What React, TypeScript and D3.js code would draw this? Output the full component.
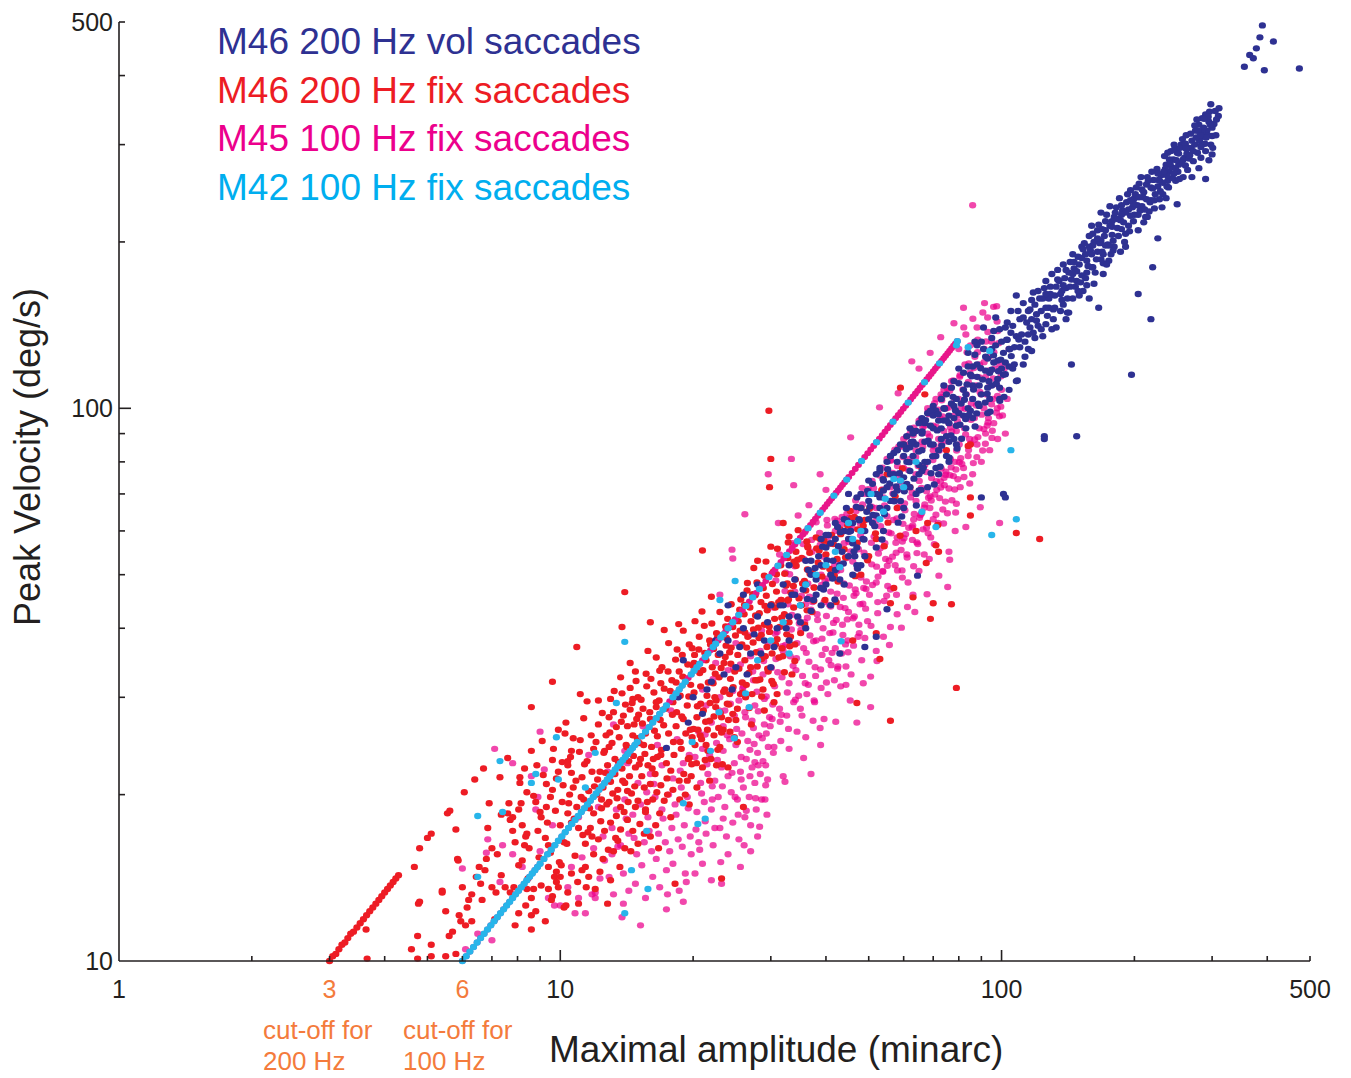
import React from "react";
import * as d3 from "d3";

// ---------- axis / label data ----------
const xTickLabels = [1, 10, 100, 500];
const xCutoffLabels = [3, 6];
const yTickLabels = [10, 100, 500];
const xMajorTicks = [10, 100];
const xMinorTicks = [2, 3, 4, 5, 6, 7, 8, 9, 20, 30, 40, 50, 60, 70, 80, 90, 200, 300, 400, 500];
const yMajorTicks = [100];
const yMinorTicks = [20, 30, 40, 50, 60, 70, 80, 90, 200, 300, 400, 500];

const legendLabels = [
  "M46 200 Hz vol saccades",
  "M46 200 Hz fix saccades",
  "M45 100 Hz fix saccades",
  "M42 100 Hz fix saccades",
];
const legendColors = ["#2e3192", "#ed1c24", "#ec008c", "#00aeef"];

// ---------- series: [amplitude (minarc), peak velocity (deg/s)] ----------
const navyVol: number[][] = [
  [390,493],[385,469],[413,461],[378,448],[365,436],[372,430],[355,415],[394,409],[473,412],
  [298,355],[290,340],[305,345],[310,338],[295,330],[285,335],[300,322],[292,318],[306,312],[280,326],[288,310],[275,318],[298,300],[284,300],[270,305],[262,312],[290,292],[278,290],[266,296],[255,300],[295,281],[290,260],[272,280],[260,284],[250,290],[264,270],[252,276],[245,282],[240,268],[258,262],[248,258],[270,262],[242,292],[236,276],[230,264],[226,252],[280,272],[300,288],[238,258],[232,244],
  [228,258],[220,250],[214,262],[210,246],[205,255],[200,240],[218,238],[222,230],[208,232],[196,248],[192,236],[188,228],[200,224],[212,222],[185,240],[180,222],[176,232],[194,214],[183,212],[204,210],[172,218],[168,226],[178,206],[190,200],[165,210],[174,198],[186,192],[160,214],[162,200],[170,190],[220,180],[226,203],[204,161],[218,145],[197,115],[250,234],[214,222],[236,240],
  [180,196],[175,185],[170,175],[165,192],[158,205],[155,190],[150,182],[148,170],[156,176],[162,168],[145,190],[142,176],[140,165],[138,182],[135,170],[150,160],[132,160],[130,175],[128,152],[125,165],[145,158],[136,150],[122,158],[120,148],[126,142],[140,145],[118,162],[133,140],[115,150],[124,135],[116,140],[112,155],[158,158],[148,89],[125,89],[144,120],[166,152],[113,132],[152,196],[168,201],[160,180],
  [110,145],[108,135],[105,150],[104,128],[102,140],[100,132],[98,122],[101,115],[96,138],[95,128],[94,116],[92,124],[90,132],[89,110],[88,120],[86,104],[85,115],[84,126],[82,108],[80,118],[80,98],[78,112],[77,102],[76,94],[75,106],[106,118],[99,104],[93,98],[86,96],[101,70],[112,120],[97,146],[91,140],[87,132],[83,92],[79,86],[104,108],[95,110],[108,160],[115,128],
  [74,100],[73,88],[72,95],[71,82],[70,92],[69,86],[68,98],[67,80],[66,90],[65,76],[64,86],[63,82],[62,92],[62,72],[61,80],[60,86],[59,74],[58,80],[57,70],[56,76],[56,82],[55,66],[72,76],[68,72],[64,70],[60,66],[66,96],[70,101],[58,84],[76,80],[74,110],[78,96],[63,91],
  [54,74],[53,66],[52,70],[51,62],[50,68],[49,60],[48,66],[47,56],[46,62],[45,70],[45,54],[44,60],[43,52],[42,58],[41,50],[40,56],[40,48],[39,52],[38,46],[37,50],[37,43],[36,48],[35,44],[52,56],[48,52],[44,48],[50,74],[47,69],[42,62],[54,60],[39,58],[36,40],[41,44],[46,50],[53,78],[49,54],
  [49,37],[52,38.6],[55,43.3],[64.5,49.8],[43,36],[90,69],[102,69],[125,88],
  [34,46],[33,42],[32,48],[31,40],[30,44],[29,38],[28,42],[27,36],[26,40],[25,34],[24,38],[22,32],[20,30],[19,35],[17.4,24.3],[21,28],[23,36],[30,34],[33,52],[28,48],[26,46],[24,44],
  [303,327],[296,344],[287,322],[281,305],[277,333],[269,296],[263,289],[257,307],[251,268],[247,296],[243,273],[239,251],[234,286],[229,247],[225,271],[221,259],[217,236],[213,254],[209,241],[206,228],[202,251],[199,218],[203,233],[311,349],[307,333],[293,312],[289,301],[283,284],[274,300],[268,314],[261,275],[254,296],[248,272],[244,261],[237,264],[232,256],[228,239],[223,244],[216,227],[211,229],[207,262],[201,244],[198,231],[246,300],[258,282],[266,283],[276,309],[285,316],[294,337],[300,311],[235,271],[240,282],[219,268],
  [196,223],[193,244],[189,217],[187,233],[184,205],[181,226],[178,213],[175,197],[173,224],[171,205],[169,192],[166,215],[164,186],[161,207],[159,193],[157,181],[154,199],[152,174],[149,188],[147,166],[146,179],[143,184],[141,158],[139,172],[137,163],[134,178],[131,151],[129,166],[127,147],[124,158],[121,141],[119,154],[117,145],[191,207],[186,219],[179,201],[172,210],[167,199],[163,176],[156,185],[151,169],[144,171],[138,154],[133,166],[128,158],[123,150],[182,231],[177,190],[170,183],[153,163],[142,149],[136,161],[194,229],[160,190],[148,177],[126,170],
  [118,137],[116,151],[114,143],[113,124],[111,136],[109,150],[107,129],[106,141],[104,119],[103,133],[101,126],[99,139],[98,113],[96,121],[95,134],[93,109],[92,117],[91,128],[90,106],[88,114],[87,125],[86,110],[85,99],[84,119],[83,106],[82,116],[81,102],[80,111],[117,127],[112,146],[108,112],[103,143],[100,118],[97,130],[94,104],[89,101],[86,119],[82,97],[110,129],[105,137],[99,109],[93,123],[88,130],[84,100],[115,136],[102,121],
  [79,104],[79,93],[78,88],[77,109],[76,97],[75,89],[74,95],[73,104],[72,84],[71,99],[70,86],[69,93],[68,80],[67,94],[66,84],[65,94],[65,79],[64,91],[63,87],[62,77],[61,89],[61,73],[60,82],[59,86],[58,71],[57,83],[57,76],[56,68],[55,80],[54,71],[53,77],[52,64],[51,73],[50,63],[78,101],[76,87],[73,92],[71,78],[69,99],[67,87],[65,71],[63,90],[60,75],[58,84],[55,72],[52,76],[50,70],[75,82],[70,97],[66,77],[62,85],[59,68],[56,82],[53,69],
  [49.5,65],[48.5,58],[47.5,63],[46.5,54],[45.5,60],[44.5,66],[43.5,55],[42.5,61],[41.5,53],[40.5,59],[39.5,47],[38.5,54],[37.5,45],[36.5,51],[35.5,47],[34.5,42],[33.5,46],[32.5,40],[31.5,44],[48,70],[46,57],[44,63],[42,51],[40,59],[38,49],[36,53],[34,49],[32,44],[47,52],[45,58],[43,49],[41,57],[39,44],[37,53],[35,41],[33,38],[30.5,37],[29.5,41],[28.5,36],
  [27.5,39],[25.5,37],[23.5,33],[21.5,31],[19.5,27],[18.5,30],[26.5,33],[22.5,38],[24.5,31],
  [36.3,45.2],[37.8,51.4],[38.9,47.3],[40.2,53.1],[41.4,49.2],[42.7,56.3],[43.8,52.4],[45.1,59.8],[46.3,55.1],[47.6,62.7],[48.8,57.9],[50.3,66.4],[51.6,61.2],[52.9,69.8],[54.3,64.3],[55.8,73.1],[57.1,67.9],[58.7,76.3],[60.2,70.8],[61.8,79.9],[63.3,74.6],[64.9,83.5],[66.5,78.1],[68.2,87.4],[69.8,81.9],[71.5,91.2],[73.2,85.6],[75.0,95.1],[76.8,89.3],[78.6,99.2],[80.5,93.4],[82.4,103.6],[84.4,97.3],[86.4,108.1],[88.5,101.9],[90.6,112.7],[92.8,106.2],[95.0,117.4],[97.3,110.8],[99.6,122.5],[102.0,115.3],[104.4,127.9],[106.9,120.1],[109.4,133.2],[39.3,56.2],[44.6,62.7],[49.7,70.9],[55.2,77.6],[60.8,84.3],[66.1,90.8],[71.9,97.6],[77.6,104.9],[83.5,110.4],[89.7,118.2],[95.9,124.7],[102.7,133.1],[41.9,45.1],[47.2,51.3],[53.6,57.9],[59.4,63.7],[65.7,71.2],[72.6,78.4],[79.3,84.6],[87.1,92.7],[94.2,98.6],[101.3,104.9],[108.6,112.3],[43.1,59.7],[51.1,64.1],[57.7,72.2],[62.4,86.9],[69.2,76.3],[74.3,99.8],[81.2,88.1],[85.6,114.3],[91.8,102.4],[98.4,116.7],[105.2,124.3],[64.1,66.7],[70.4,72.8],[76.1,81.4],[82.9,95.6],[93.6,111.9],[99.1,103.2],[87.8,97.9],[58.3,62.1],[46.9,66.3],[53.9,74.4],[67.3,95.2],
  [297,326],[291,309],[283,297],[279,318],[272,292],[267,287],[261,301],[256,278],[252,289],[246,266],[241,277],[237,252],[233,268],[227,259],[222,238],[218,251],[213,239],[208,249],[204,224],[199,235],[195,209],[191,226],[187,211],[183,220],[179,193],[176,214],[172,197],[168,186],[165,203],[161,180],[158,196],[155,172],[152,187],[149,163],[146,184],[143,166],[140,178],[137,157],[134,171],[131,145],[129,161],[126,152],[123,139],[121,163],[119,134],[117,157],[288,334],[274,325],[262,295],[249,281],[238,290],[226,266],[215,258],[205,241],[196,238],[187,224],[178,218],[169,211],[161,197],[153,194],[145,175],[138,167],[132,152],[126,161],[120,144],[301,296],[282,312],[253,260],[231,231],[210,217],[191,196],[173,182],[156,167],[141,149],[130,139],
];

const redFix: number[][] = [
  [3.0,10],[3.05,10.2],[3.1,10.3],[3.15,10.5],[3.2,10.7],[3.25,10.8],[3.3,11],[3.35,11.2],[3.4,11.3],[3.46,11.5],[3.52,11.7],[3.58,11.9],[3.64,12.1],[3.7,12.3],[3.76,12.5],[3.82,12.7],[3.88,12.9],[3.94,13.1],[4.0,13.3],[4.06,13.5],[4.12,13.7],[4.18,13.9],[4.24,14.1],[4.3,14.3],
  [4.67,14.8],[4.8,16],[5.0,16.7],[5.1,17],[5.55,18.5],[5.62,18.7],[6.06,20.2],[6.4,21.3],[6.7,22.3],
  [3.65,10.1],[3.63,11.4],[4.6,10.5],[4.75,10.1],[4.75,11.1],[4.77,12.7],[5.1,10.7],[5.1,10.2],[5.5,10.2],[5.8,10.3],[5.6,11.1],[5.7,11.3],[5.4,13.3],[5.5,12.3],[5.85,15.3],[5.8,17.3],[5.9,12.1],[6.1,11.6],[5.95,11.8],[6.3,11.8],[6.15,12.5],[6.2,12.9],[6.3,13.2],[6.0,13.6],[6.45,14.2],[6.55,14.8],[6.75,14.6],[6.8,15.3],[6.6,13.8],[6.65,12.9],[6.85,17.4],[4.8,12.8],[5.4,13.4],[5.87,15.2],
  [7.0,13.6],[7.15,13.3],[7.0,16.0],[7.35,14.3],[7.5,13.6],[7.35,18.4],[7.7,18.0],[7.8,18.2],[7.65,19.3],[7.9,16.4],[8.2,15.2],[8.05,14.9],[7.85,13.6],[7.7,13.3],[8.05,12.2],[7.9,11.6],[8.6,11.4],[8.6,12.1],[8.8,12.3],[8.6,13.0],[8.7,13.5],[8.4,13.5],[8.3,16.2],[8.5,16.0],[8.35,16.8],[8.05,18.8],[8.15,19.3],[8.4,20.2],[8.1,21.5],[8.1,21.0],[8.8,19.4],[9.0,18.6],[9.05,18.2],[7.3,21.5],[7.6,23.3],[8.3,22.3],[8.6,24.0],[7.8,17.2],[8.9,17.2],[7.2,15.6],[6.9,19.3],[7.1,11.9],[7.6,18.5],[8.4,17.0],
  [9.3,19.0],[9.25,16.7],[9.4,16.2],[9.5,15.7],[9.4,14.8],[9.8,14.5],[9.7,14.2],[9.8,13.9],[10.0,14.2],[9.9,13.6],[10.4,13.3],[10.2,12.5],[9.6,13.1],[9.4,13.5],[9.8,21.4],[9.9,22.0],[10.1,22.9],[10.4,23.0],[9.6,23.1],[10.4,22.6],[10.6,24.0],[11.1,25.1],[10.7,25.3],[9.3,20.9],[9.6,20.4],[9.5,19.8],[9.6,32.0],[10.9,37.0],[8.6,28.8],[10.6,21.9],[10.6,17.8],[11.0,17.4],[10.6,14.4],[11.2,14.6],[11.4,14.8],[11.6,14.2],[10.3,12.6],[11.0,12.7],[11.4,16.3],[11.8,16.8],[10.2,16.4],[10.0,17.6],[10.4,18.5],[10.9,19.0],[11.3,19.6],[11.6,20.3],[10.1,19.4],[10.7,20.6],[11.2,21.5],[11.8,22.0],[11.5,23.0],[11.9,24.2],[10.3,27.0],[11.3,27.5],[11.1,30.4],[11.5,29.5],[11.9,18.5],[11.7,17.4],[10.8,15.5],[11.9,15.6],[10.5,20.0],[9.1,25.0],[9.9,26.2],
  [12.0,13.5],[12.3,14.5],[12.8,12.7],[13.0,14.0],[12.5,15.3],[13.2,15.8],[13.5,16.5],[12.2,16.6],[12.6,17.2],[13.0,17.8],[13.4,18.3],[12.4,18.9],[12.9,19.4],[13.7,19.0],[14.2,18.0],[14.6,17.2],[15.0,16.3],[15.5,17.0],[14.0,16.0],[12.1,20.0],[12.5,20.6],[13.0,21.1],[13.5,20.4],[14.0,21.0],[14.5,20.1],[15.0,19.5],[15.6,18.8],[16.2,19.6],[16.8,18.5],[12.3,22.0],[12.8,22.6],[13.3,23.2],[13.8,22.3],[14.3,23.0],[14.8,22.4],[15.3,21.6],[15.8,22.6],[16.4,21.8],[16.9,20.8],[12.6,24.0],[13.1,24.8],[13.6,25.4],[14.1,24.6],[14.6,25.6],[15.1,24.8],[15.6,25.8],[16.1,24.4],[16.6,25.5],[12.2,26.8],[12.9,27.6],[13.4,26.5],[13.9,27.8],[14.4,28.5],[14.9,27.4],[15.4,28.6],[16.0,27.4],[16.5,28.8],[13.0,29.8],[13.8,30.5],[14.4,31.2],[15.0,30.0],[15.7,31.4],[16.3,30.6],[16.9,31.8],[12.2,29.6],[13.7,32.6],[14.4,34.6],[14.8,33.4],[16.5,35.4],[16.0,41.0],[13.8,40.2],[14.0,46.5],[17.2,39.7],[15.8,36.4],[16.8,33.5],[15.2,23.2],[14.2,26.6],[16.6,23.4],[13.2,28.2],[12.7,25.6],[15.5,20.6],[14.8,19.0],[16.0,16.8],[16.7,16.0],
  [17.2,19.5],[17.8,18.2],[18.2,13.8],[18.0,20.4],[18.6,21.2],[19.2,20.0],[19.8,21.6],[20.4,20.6],[21.0,22.4],[17.4,22.8],[18.1,23.6],[18.8,24.2],[19.5,23.2],[20.2,24.6],[20.9,25.2],[21.6,24.0],[22.3,25.6],[23.0,24.4],[17.6,25.8],[18.3,26.6],[19.0,27.4],[19.7,26.2],[20.4,27.6],[21.1,28.4],[21.8,27.2],[22.5,28.8],[23.2,27.6],[23.9,29.2],[24.6,28.0],[17.3,28.6],[18.0,29.4],[18.7,30.2],[19.4,29.0],[20.1,30.6],[20.8,31.4],[21.5,30.2],[22.2,31.8],[22.9,32.6],[23.6,31.0],[24.3,32.4],[17.9,32.2],[18.6,33.4],[19.3,32.4],[20.0,34.2],[20.7,33.2],[21.4,35.0],[22.1,34.0],[22.8,35.8],[23.5,34.6],[24.2,36.2],[18.4,36.6],[19.6,37.4],[20.6,36.6],[21.8,38.0],[22.6,39.2],[23.8,38.4],[24.6,40.2],[19.0,39.6],[20.2,41.2],[21.2,40.4],[23.0,42.8],[24.4,44.2],[21.0,55.3],[22.0,45.6],[17.0,34.0],[19.6,19.2],[22.6,22.6],[24.0,22.4],[23.2,14.1],[21.8,21.2],[24.8,25.4],[18.9,35.8],[17.6,37.6],[20.8,29.2],[22.4,30.0],[19.9,25.4],[23.4,26.2],[24.2,30.4],[26.0,19.0],
  [25.2,28.6],[25.6,30.4],[26.4,31.6],[27.2,30.4],[28.0,32.2],[28.8,31.0],[29.6,33.4],[25.4,33.8],[26.2,35.0],[27.0,34.0],[27.8,36.2],[28.6,35.2],[29.4,37.0],[30.2,36.0],[31.0,38.2],[31.8,36.8],[32.6,39.0],[25.8,37.4],[26.6,38.6],[27.4,39.8],[28.2,38.4],[29.0,40.6],[29.8,39.4],[30.6,41.6],[31.4,40.2],[32.2,42.4],[33.0,41.0],[33.8,43.6],[25.3,41.2],[26.1,42.4],[26.9,43.6],[27.7,42.2],[28.5,44.6],[29.3,45.8],[30.1,44.2],[30.9,46.6],[31.7,45.0],[32.5,47.8],[33.3,46.4],[34.1,49.0],[26.5,46.8],[27.9,48.4],[29.0,49.8],[30.4,50.6],[31.6,52.0],[32.8,53.6],[34.2,55.0],[28.0,53.0],[30.0,56.2],[33.0,58.6],[34.6,60.2],[29.7,99],[30.0,81],[29.8,72],[32.0,62.0],[26.3,30.0],[34.0,37.4],[33.5,33.0],[30.5,29.4],
  [35.2,44.0],[36.0,46.8],[36.8,50.2],[37.6,47.4],[38.4,52.6],[39.2,49.6],[40.0,54.4],[40.8,51.2],[41.6,56.8],[42.4,53.4],[43.2,59.2],[44.0,55.6],[44.8,61.4],[45.6,58.0],[46.4,63.6],[47.2,60.4],[48.0,66.0],[49.0,62.8],[36.4,56.0],[38.0,58.4],[39.6,57.6],[41.2,59.0],[35.8,40.6],[37.2,42.8],[39.8,45.0],[42.6,48.6],[38.8,58.0],[36.2,57.4],[45.4,65.2],
  [85,69],[85,64],[108,59.5],[122,58],[70,44.4],[77,44.2],[69,41.6],[63,45.5],[57,47.3],[56,44.4],[53,35.2],[79,31.2],[47,29.3],[56,27.2],[52,39.2],[67.5,52.5],[71,56.5],[72,55],[71.7,61.5],[68,62],[85,86],[84,85.5],[59,109],[67,106],[46,38],[52,58],[58,66],[62,72],[66,78],[75,84],[55,76],[60,86],[64,60],[50,54],[48,50],
  [8.2,17.6],[8.45,14.1],[8.7,19.9],[8.95,15.4],[9.15,21.7],[9.35,17.8],[9.55,12.9],[9.75,18.7],[9.95,15.1],[10.15,20.8],[10.35,16.3],[10.55,23.4],[10.75,18.1],[10.95,13.9],[11.15,19.8],[11.35,22.7],[11.55,17.1],[11.75,25.6],[11.95,20.7],[8.35,12.6],[8.85,22.6],[9.25,11.8],[9.65,24.2],[10.05,14.9],[10.45,19.3],[10.85,21.2],[11.25,16.9],[11.65,18.9],[9.05,13.7],[10.25,25.8],[11.05,23.9],[11.45,13.6],
  [12.15,21.3],[12.35,17.9],[12.55,23.8],[12.75,19.2],[12.95,25.9],[13.15,20.1],[13.35,16.7],[13.55,22.9],[13.75,27.1],[13.95,18.6],[14.15,24.4],[14.35,21.6],[14.55,29.3],[14.75,20.7],[14.95,25.3],[15.15,17.7],[15.35,26.9],[15.55,23.7],[15.75,19.4],[15.95,28.2],[16.15,22.3],[16.35,26.1],[16.55,20.2],[16.75,29.6],[16.95,24.1],[12.45,28.1],[12.85,15.9],[13.25,30.8],[13.65,14.8],[14.05,29.1],[14.45,15.8],[14.85,32.1],[15.25,29.7],[15.65,33.1],[16.05,32.4],[16.45,17.6],[16.85,27.3],[12.05,24.9],[13.45,19.7],[14.65,23.5],[15.45,24.6],[16.25,23.2],[13.85,21.2],[15.05,27.9],[12.65,21.9],[14.25,19.4],
  [17.15,26.7],[17.45,21.4],[17.75,30.8],[18.05,24.9],[18.35,28.2],[18.65,19.6],[18.95,32.7],[19.25,25.8],[19.55,30.1],[19.85,22.7],[20.15,35.8],[20.45,28.9],[20.75,25.6],[21.05,33.6],[21.35,27.1],[21.65,31.9],[21.95,23.2],[22.25,36.7],[22.55,29.6],[22.85,26.4],[23.15,33.9],[23.45,30.7],[23.75,37.2],[24.05,27.3],[24.35,34.5],[24.65,31.3],[24.95,38.8],[17.55,33.4],[18.25,35.1],[18.85,27.7],[19.45,34.4],[20.05,26.3],[20.65,38.6],[21.25,36.1],[21.85,29.3],[22.45,33.1],[23.05,28.1],[23.65,35.5],[24.25,26.0],[24.85,33.4],[19.05,21.8],[20.35,22.8],[21.55,26.2],[22.75,24.1],[17.95,27.9],[19.75,31.6],[22.05,40.8],[23.95,41.6],[20.95,42.9],[18.55,40.7],
  [25.25,35.8],[25.55,39.6],[25.85,31.9],[26.15,44.1],[26.45,36.9],[26.75,33.2],[27.05,41.2],[27.35,37.7],[27.65,45.9],[27.95,34.1],[28.25,42.6],[28.55,38.9],[28.85,47.3],[29.15,35.6],[29.45,43.1],[29.75,40.3],[30.25,48.1],[30.75,37.4],[31.25,44.6],[31.75,41.8],[32.25,50.2],[32.75,44.9],[33.25,38.6],[33.75,47.7],[34.25,51.9],[34.75,45.3],[35.25,53.6],[35.75,48.7],[36.25,43.1],[36.75,54.8],[37.25,50.6],[25.65,45.1],[26.55,48.3],[27.45,51.4],[28.35,32.3],[29.25,52.8],[30.15,32.1],[31.05,55.7],[31.95,35.6],[32.85,57.2],[33.85,52.8],[35.05,39.2],[36.35,56.3],[37.55,44.8],
  [38.6,55.3],[39.4,51.7],[40.6,56.9],[41.8,49.8],[43.1,60.4],[44.3,53.7],[45.7,63.3],[47.1,57.1],[48.6,61.3],[50.2,65.8],[51.8,59.4],[53.5,71.1],[55.3,62.1],[57.4,69.3],[59.6,77.8],[42.2,44.6],[46.6,49.7],[49.7,53.1],[54.2,56.3],[58.9,58.8],
  [12.4,19.6],[13.3,21.8],[14.2,20.3],[15.1,22.7],[16.0,20.9],[16.9,23.6],[17.8,22.1],[18.7,24.9],[19.6,23.3],[20.5,26.2],[21.4,24.6],[22.3,27.7],[23.2,25.9],[24.1,29.1],[25.0,27.3],[25.9,30.6],[26.8,28.7],[27.7,32.2],[28.6,30.1],[29.5,33.8],[30.4,31.7],[31.3,35.4],[32.2,33.3],[33.1,37.1],[34.0,34.9],[12.9,24.4],[14.7,26.8],[16.5,29.4],[18.3,31.9],[20.1,34.6],[21.9,37.4],[23.7,40.3],[25.5,43.2],[27.3,46.1],[29.1,43.9],[30.9,50.1],[32.7,48.2],[34.5,53.2],[36.3,51.1],[38.1,55.8],[13.7,17.3],[15.6,18.6],[17.5,20.0],[19.4,21.2],[21.3,23.1],[23.3,22.7],[25.2,24.9],[27.1,26.8],[29.0,28.4],[31.0,30.4],[14.6,29.8],[17.2,31.1],[19.9,36.8],[22.7,38.4],[24.4,36.9],[26.2,39.3],[28.1,40.1],[30.7,43.6],[32.9,45.1],[35.4,48.2],
];

const magentaFix: number[][] = [
  [6.0,14.7],[6.8,15.7],[6.85,16.6],[7.0,10.9],[6.1,10.5],[7.8,22.8],[7.8,15.6],[8.9,19.8],[8.8,18.8],[9.4,13.0],[9.7,12.6],[6.5,11.2],[7.3,13.9],[8.2,14.8],[9.0,15.8],[9.6,17.6],[7.1,24.2],[7.4,16.2],[8.6,21.6],[9.0,26.0],[9.2,22.2],
  [10.0,12.6],[10.4,13.6],[10.8,12.2],[11.0,13.0],[11.4,12.2],[11.8,13.2],[12.0,13.0],[12.0,13.3],[12.6,15.2],[12.9,14.2],[13.2,13.2],[13.8,12.0],[13.9,12.7],[14.3,13.4],[14.8,13.8],[15.6,13.0],[16.2,14.2],[16.8,13.6],[17.4,14.6],[18.0,15.0],[18.6,13.4],[19.2,14.4],[19.8,15.6],[10.6,14.8],[11.2,15.4],[11.9,16.0],[12.5,16.8],[13.1,17.4],[13.7,16.2],[14.3,17.0],[14.9,15.6],[15.5,16.4],[16.1,15.8],[16.7,17.0],[17.3,16.4],[17.9,17.4],[18.5,16.6],[19.1,17.6],[19.7,16.8],[13.4,18.8],[14.0,19.6],[14.6,18.4],[15.2,19.2],[15.8,18.2],[16.4,19.8],[17.0,18.8],[17.6,20.0],[18.2,19.2],[18.8,20.6],[19.4,19.8],[15.0,21.0],[16.0,21.8],[17.0,22.6],[18.0,21.4],[19.0,22.8],[19.6,23.6],[11.6,23.6],[12.8,22.0],[14.2,22.8],[16.6,24.6],[18.4,25.2],[15.4,26.6],[12.2,19.0],[11.0,18.2],[17.4,12.4],[19.0,12.8],[15.2,11.6],[13.2,26.8],[17.8,28.4],[14.0,24.0],
  [20.2,14.4],[21.0,15.0],[22.0,14.0],[23.2,13.8],[24.0,15.6],[20.6,16.4],[21.4,17.0],[22.2,16.2],[23.0,17.4],[23.8,16.8],[24.6,17.8],[25.4,16.6],[26.2,18.2],[27.0,17.6],[27.8,18.8],[28.6,19.6],[29.4,18.4],[20.4,18.6],[21.2,19.4],[22.0,18.8],[22.8,19.8],[23.6,19.0],[24.4,20.2],[25.2,19.6],[26.0,20.6],[26.8,19.8],[27.6,21.0],[28.4,21.8],[29.2,20.8],[20.8,21.0],[21.6,21.8],[22.4,21.2],[23.2,22.4],[24.0,21.6],[24.8,22.8],[25.6,22.0],[26.4,23.2],[27.2,22.4],[28.0,23.8],[28.8,23.0],[29.6,24.4],[20.2,23.4],[21.0,24.2],[21.8,23.6],[22.6,24.8],[23.4,24.0],[24.2,25.2],[25.0,24.6],[25.8,25.8],[26.6,25.0],[27.4,26.4],[28.2,25.6],[29.0,26.8],[29.8,27.6],[20.6,26.0],[22.0,27.0],[23.4,26.6],[24.8,27.8],[26.2,28.2],[27.6,29.0],[29.0,29.8],[21.4,29.0],[23.0,30.0],[24.6,30.8],[26.0,31.4],[27.4,32.2],[28.8,33.0],[22.2,32.4],[24.0,33.6],[25.6,34.4],[27.0,35.6],[28.4,36.4],[29.6,37.6],[25.0,37.6],[26.8,38.8],[28.6,39.6],[23.0,46],[24.5,55.5],[24.6,53.5],[26.2,64.3],[29.6,76],[22.4,17.4],[25.6,14.8],[27.0,15.8],[28.0,16.8],[29.2,22.6],[21.0,31.0],[23.6,28.4],[27.2,27.2],[25.4,29.6],
  [30.4,23.8],[31.6,25.0],[33.0,24.2],[34.4,26.0],[36.0,25.4],[37.4,27.2],[38.8,26.4],[30.2,27.4],[31.4,28.6],[32.6,27.8],[33.8,29.4],[35.0,28.6],[36.2,30.4],[37.6,29.6],[39.0,31.2],[40.4,30.4],[41.8,32.2],[43.2,31.4],[44.4,34.1],[30.6,31.4],[31.8,32.6],[33.0,31.8],[34.2,33.6],[35.4,32.8],[36.6,34.8],[37.8,34.0],[39.2,35.8],[40.6,35.0],[42.0,36.8],[43.4,36.0],[44.8,38.0],[46.2,37.2],[47.6,39.2],[49.0,38.4],[30.8,35.2],[32.0,36.4],[33.2,35.6],[34.4,37.6],[35.6,36.8],[36.8,38.8],[38.0,38.0],[39.4,40.0],[40.8,39.2],[42.2,41.4],[43.6,40.6],[45.0,42.8],[46.4,42.0],[47.8,44.2],[49.2,43.4],[31.0,39.4],[32.2,40.6],[33.4,39.8],[34.6,41.8],[35.8,41.0],[37.0,43.2],[38.2,42.4],[39.6,44.6],[41.0,43.8],[42.4,46.2],[43.8,45.4],[45.2,47.8],[46.6,47.0],[48.0,49.4],[49.4,48.6],[30.4,43.6],[31.6,45.0],[32.8,44.2],[34.0,46.6],[35.2,45.8],[36.4,48.2],[37.6,47.4],[39.0,50.0],[40.4,49.2],[41.8,51.8],[43.2,51.0],[44.6,53.6],[46.0,52.8],[47.4,55.6],[48.8,54.8],[30.8,48.8],[32.4,50.4],[34.0,51.8],[35.6,53.4],[37.2,55.0],[38.8,56.6],[40.4,58.4],[42.0,60.0],[43.6,61.8],[45.2,63.4],[46.8,65.2],[48.4,67.0],[31.4,54.4],[33.6,57.0],[35.8,59.6],[38.0,62.2],[40.2,62.8],[42.4,62.6],[44.6,64.4],[46.8,66.2],[49.0,70.0],[33.4,81],[33.8,72.6],[38.8,76],[45.5,88.6],[42.6,34.1],[44.4,31.6],[47.0,27.0],[31.2,62.0],[36.6,66.8],[40.0,71.2],[34.6,64.0],[37.0,21.8],[39.6,27.4],[45.6,33.0],[48.2,35.0],[32.0,21.6],[41.0,46.6],[36.0,44.2],[44.0,57.0],
  [50.5,32.7],[50.5,28.8],[52.0,36.4],[54.0,38.6],[56.0,40.2],[58.0,42.4],[61.2,43.7],[63.0,46.0],[50.6,40.4],[52.4,42.6],[54.2,44.8],[56.0,47.0],[57.8,46.0],[59.6,49.4],[61.4,48.4],[63.2,51.8],[65.0,50.8],[66.8,54.4],[68.6,53.4],[70.4,56.8],[50.2,46.0],[52.0,48.4],[53.8,50.6],[55.6,53.0],[57.4,52.0],[59.2,55.4],[61.0,54.4],[62.8,57.8],[64.6,56.8],[66.4,60.4],[68.2,59.4],[70.0,63.0],[71.8,62.0],[73.6,65.6],[75.4,64.6],[77.2,68.2],[79.0,67.2],[50.8,52.2],[52.6,54.6],[54.4,57.0],[56.2,59.4],[58.0,58.4],[59.8,61.8],[61.6,60.8],[63.4,64.4],[65.2,63.4],[67.0,67.0],[68.8,66.0],[70.6,69.8],[72.4,68.8],[74.2,72.6],[76.0,71.6],[77.8,75.4],[79.6,74.4],[51.4,58.6],[53.2,61.2],[55.0,63.8],[56.8,62.8],[58.6,66.4],[60.4,65.4],[62.2,69.0],[64.0,68.0],[65.8,71.8],[67.6,70.8],[69.4,74.8],[71.2,73.8],[73.0,77.8],[74.8,76.8],[76.6,81.0],[78.4,80.0],[52.0,66.0],[54.0,69.0],[56.0,72.0],[58.0,75.0],[60.0,78.0],[62.0,81.0],[64.0,84.0],[66.0,87.0],[68.0,90.0],[70.0,93.0],[72.0,88.0],[74.0,91.0],[76.0,94.0],[78.0,97.0],[53.0,75.6],[56.0,80.4],[59.0,85.2],[62.0,90.0],[65.0,95.0],[68.0,100.0],[71.0,104.0],[74.0,108.0],[77.0,112.0],[80.0,104.0],[52.9,100.4],[58.3,106.5],[62.6,121.6],[65.0,118.0],[68.9,126],[72.8,134.5],[75.5,47.5],[76.0,55.0],[64.0,76.0],[70.0,84.0],[72.6,96.0],[66.0,95.0],[60.0,88.0],[55.0,81.0],[75.0,100.0],[78.0,112.0],[57.0,68.0],[61.0,72.0],[67.0,79.0],[73.0,86.0],[79.0,91.0],
  [80.6,72.0],[82.0,78.0],[83.0,61.0],[84.0,82.0],[86.0,76.0],[88.0,86.0],[90.0,80.0],[92.0,90.0],[94.0,84.0],[96.0,94.0],[98.0,88.0],[99.0,62.0],[80.2,86.0],[82.4,92.0],[84.6,88.0],[86.8,96.0],[89.0,92.0],[91.2,100.0],[93.4,96.0],[95.6,104.0],[97.8,100.0],[81.0,100.0],[83.2,106.0],[85.4,102.0],[87.6,110.0],[89.8,106.0],[92.0,114.0],[94.2,110.0],[96.4,118.0],[80.4,114.0],[82.6,120.0],[84.8,116.0],[87.0,124.0],[89.2,120.0],[91.4,128.0],[93.6,124.0],[82.0,152.0],[91.5,155.0],[97.5,153.0],[86.0,233.0],[78.0,142.5],[83.0,136.0],[88.0,140.0],[93.0,146.0],[98.0,138.0],[85.0,130.0],[95.0,132.0],[80.0,128.0],[99.0,120.0],[100.0,108.0],[78.5,60.0],
  [12.3,14.1],[13.1,15.6],[13.9,14.4],[14.7,16.7],[15.3,14.9],[15.9,17.2],[16.5,15.3],[17.1,18.1],[17.7,15.8],[18.3,18.4],[18.9,16.1],[19.5,18.9],[14.1,18.1],[16.3,20.9],[18.7,22.1],[19.3,13.9],[17.5,13.2],[15.7,20.2],[13.5,16.1],
  [20.3,17.3],[20.9,20.1],[21.5,22.7],[22.1,19.6],[22.7,23.1],[23.3,20.7],[23.9,25.6],[24.5,21.9],[25.1,26.3],[25.7,23.4],[26.3,27.6],[26.9,21.6],[27.5,24.7],[28.1,28.3],[28.7,25.3],[29.3,30.1],[29.9,26.6],[21.3,25.7],[22.9,28.4],[24.3,29.2],[25.9,31.1],[27.3,33.4],[28.9,34.9],[20.7,15.9],[23.1,15.1],[25.3,18.4],[27.7,19.7],[29.5,21.3],[26.1,16.2],[28.3,17.5],[24.7,33.8],[22.5,34.6],
  [30.3,29.1],[31.1,33.3],[31.9,37.1],[32.7,30.6],[33.5,42.3],[34.3,35.3],[35.1,39.7],[35.9,31.8],[36.7,45.6],[37.5,37.9],[38.3,41.4],[39.1,47.9],[39.9,36.7],[40.7,44.1],[41.5,39.3],[42.3,50.7],[43.1,43.7],[43.9,48.2],[44.7,41.5],[45.5,55.1],[46.3,45.8],[47.1,51.3],[47.9,58.9],[48.7,47.3],[49.5,53.6],[30.7,39.1],[32.3,46.7],[33.9,52.3],[35.5,56.8],[37.1,57.8],[38.7,59.5],[40.3,61.4],[41.9,63.1],[43.5,63.6],[45.1,61.2],[46.7,68.1],[48.3,71.8],[49.9,71.4],[31.5,27.1],[34.7,30.2],[37.9,32.8],[41.1,34.3],[44.3,37.4],[47.5,40.6],[36.3,41.8],[42.7,55.8],[39.5,53.9],[45.9,60.7],[33.1,50.1],[40.1,42.1],
  [50.7,57.1],[51.9,62.6],[53.1,55.8],[54.3,66.7],[55.5,59.6],[56.7,70.1],[57.9,63.2],[59.1,73.4],[60.3,67.3],[61.5,77.3],[62.7,70.4],[63.9,81.6],[65.1,73.9],[66.3,85.2],[67.5,76.7],[68.7,88.9],[69.9,80.6],[71.1,92.6],[72.3,83.9],[73.5,96.7],[74.7,87.2],[75.9,100.3],[77.1,90.8],[78.3,104.1],[79.5,94.7],[51.3,71.7],[53.7,78.1],[56.1,80.6],[58.5,85.3],[60.9,88.8],[63.3,92.2],[65.7,95.7],[68.1,98.6],[70.5,102.1],[72.9,105.9],[75.3,108.7],[77.7,112.3],[52.5,49.6],[55.1,51.9],[57.7,54.8],[60.1,58.2],[62.9,61.4],[65.5,64.1],[68.3,68.9],[71.3,71.2],[74.1,74.9],[76.9,78.2],[79.1,83.9],[54.9,45.8],[59.5,50.9],[64.3,54.7],[69.1,58.4],[73.9,61.9],[78.7,64.8],[61.7,86.1],[66.9,93.1],[71.9,99.4],[76.3,107.6],[58.1,78.6],[63.1,89.5],[68.5,97.6],[73.3,104.8],[50.9,73.9],[57.3,84.2],
  [80.5,97.1],[81.7,108.2],[82.9,89.7],[84.1,111.6],[85.3,95.3],[86.5,118.3],[87.7,101.2],[88.9,113.8],[90.1,97.4],[91.3,121.2],[92.5,105.9],[93.7,117.1],[94.9,101.7],[96.1,126.3],[97.3,110.6],[98.5,131.2],[99.7,114.3],[81.3,79.3],[84.7,73.1],[87.9,81.6],[91.9,86.3],[95.3,91.1],[98.9,96.7],[83.5,126.3],[88.3,133.1],[93.1,137.4],[97.7,143.6],[86.1,145.2],[90.7,149.1],[95.9,152.6],[82.1,140.1],[89.5,66.2],[100.5,97.1],[101.5,118.2],[103,104],[104,128],[102,90],
  [25.7,21.3],[26.9,24.1],[28.1,22.6],[29.3,25.8],[30.5,24.4],[31.7,27.9],[32.9,26.3],[34.1,29.7],[35.3,27.8],[36.5,31.6],[37.7,29.4],[38.9,33.7],[40.1,31.9],[41.3,36.1],[42.5,33.8],[43.7,38.9],[44.9,36.2],[46.1,41.7],[47.3,38.6],[48.5,44.3],[49.7,41.2],[51.0,47.9],[52.4,44.6],[53.8,50.8],[55.2,47.7],[56.6,53.9],[58.1,50.9],[59.6,57.4],[61.1,53.7],[62.7,60.9],[64.3,57.2],[65.9,64.6],[67.6,60.8],[69.3,68.1],[71.0,64.2],[72.8,71.9],[74.6,67.8],[76.4,75.7],[78.3,71.3],[80.2,79.9],[82.2,75.1],[84.2,84.1],[86.3,79.6],[88.4,88.7],[90.6,83.9],[92.8,93.1],[95.1,88.4],[97.4,98.2],[27.9,30.7],[30.1,33.9],[32.4,37.3],[34.8,40.8],[37.3,44.6],[39.8,48.7],[42.4,52.9],[45.1,57.3],[47.9,61.8],[50.8,66.4],[53.7,71.3],[56.7,76.4],[59.8,81.6],[63.0,86.9],[66.3,92.3],[69.7,97.8],[73.2,103.4],[76.8,109.1],[80.5,114.8],[84.3,120.6],[88.2,126.3],[92.2,132.1],[29.1,19.6],[32.3,21.1],[35.6,23.3],[38.9,24.6],[42.1,27.1],[45.4,29.6],[48.6,31.8],[52.2,34.9],[55.7,37.3],[59.3,40.1],[63.6,42.8],[67.8,46.1],[72.1,49.8],[76.3,53.2],[36.1,36.1],[41.6,40.9],[46.8,46.3],[52.1,51.7],[57.6,57.1],[63.2,62.9],[68.9,69.3],[74.7,75.8],[80.8,81.2],[86.9,87.8],[93.2,94.3],[99.6,100.7],[23.4,18.1],[24.9,19.8],[26.4,18.7],[27.6,22.9],[22.1,20.7],[21.3,17.9],[33.7,34.2],[39.2,38.3],[44.2,43.5],[49.3,47.1],[54.6,53.4],[60.6,59.2],[66.8,66.1],[72.7,73.7],[78.8,77.5],[85.1,86.4],[91.2,91.7],[97.9,105.3],[58.9,71.4],[64.7,78.6],[70.3,85.4],[76.6,92.3],[82.7,99.8],[89.3,107.1],[95.7,113.2],
];

// saccades at the 100 Hz detection limit (one-sample saccades)
const magentaLimit: number[][] = [
  [6.0,10],[6.12,10.2],[6.24,10.4],[6.36,10.6],[6.48,10.8],[6.6,11],[6.72,11.2],[6.84,11.4],[6.96,11.6],[7.08,11.8],[7.2,12],[7.32,12.2],[7.44,12.4],[7.56,12.6],[7.68,12.8],[7.8,13],[7.92,13.2],[8.04,13.4],[8.16,13.6],[8.28,13.8],[8.4,14],[8.52,14.2],[8.64,14.4],[8.76,14.6],[8.88,14.8],[9.0,15],
  [9.18,15.3],[9.36,15.6],[9.54,15.9],[9.72,16.2],[9.9,16.5],[10.08,16.8],[10.26,17.1],[10.44,17.4],[10.62,17.7],[10.8,18],[10.98,18.3],[11.16,18.6],[11.34,18.9],[11.52,19.2],[11.7,19.5],[11.88,19.8],[12.06,20.1],[12.24,20.4],[12.42,20.7],[12.6,21],[12.78,21.3],[12.96,21.6],[13.14,21.9],[13.32,22.2],[13.5,22.5],[13.68,22.8],[13.86,23.1],[14.04,23.4],[14.22,23.7],[14.4,24],[14.58,24.3],[14.76,24.6],[14.94,24.9],
  [15.3,25.5],[15.6,26],[15.9,26.5],[16.2,27],[16.5,27.5],[16.8,28],[17.1,28.5],[17.4,29],[17.7,29.5],[18.0,30],[18.3,30.5],[18.6,31],[18.9,31.5],[19.2,32],[19.5,32.5],[19.8,33],[20.1,33.5],[20.4,34],[20.7,34.5],[21.0,35],[21.3,35.5],[21.6,36],[21.9,36.5],[22.2,37],[22.5,37.5],[22.8,38],[23.1,38.5],[23.4,39],[23.7,39.5],[24.0,40],[24.3,40.5],[24.6,41],[24.9,41.5],
  [25.38,42.3],[25.86,43.1],[26.34,43.9],[26.82,44.7],[27.3,45.5],[27.78,46.3],[28.26,47.1],[28.74,47.9],[29.22,48.7],[29.7,49.5],[30.18,50.3],[30.66,51.1],[31.14,51.9],[31.62,52.7],[32.1,53.5],[32.58,54.3],[33.06,55.1],[33.54,55.9],[34.02,56.7],[34.5,57.5],[34.98,58.3],[35.46,59.1],[35.94,59.9],[36.42,60.7],[36.9,61.5],[37.38,62.3],[37.86,63.1],[38.34,63.9],[38.82,64.7],[39.3,65.5],[39.78,66.3],[40.26,67.1],[40.74,67.9],[41.22,68.7],[41.7,69.5],[42.18,70.3],[42.66,71.1],[43.14,71.9],[43.62,72.7],[44.1,73.5],[44.58,74.3],[45.06,75.1],
  [45.84,76.4],[46.62,77.7],[47.4,79.0],[48.18,80.3],[48.96,81.6],[49.74,82.9],[50.52,84.2],[51.3,85.5],[52.08,86.8],[52.86,88.1],[53.64,89.4],[54.42,90.7],[55.2,92.0],[55.98,93.3],[56.76,94.6],[57.54,95.9],[58.32,97.2],[59.1,98.5],[59.88,99.8],[60.66,101.1],[61.44,102.4],[62.22,103.7],[63.0,105.0],[63.78,106.3],[64.56,107.6],[65.34,108.9],[66.12,110.2],[66.9,111.5],[67.68,112.8],[68.46,114.1],[69.24,115.4],[70.02,116.7],[70.8,118.0],[71.58,119.3],[72.36,120.6],[73.14,121.9],[73.92,123.2],[74.7,124.5],[75.48,125.8],[76.26,127.1],[77.04,128.4],[77.82,129.7],[78.6,131.0],[79.38,132.3],
];

const cyanFix: number[][] = [
  [108,63],[95,59],[105,84],[79,130],[84,129],[94,127],[71,61],[66,65],[57,74.5],[59,74],[53,63],[50.6,70],[54.5,68.6],[54,65],[43,51.6],[43.3,37.9],
  [24.9,48.7],[23,45],[14,37.8],[13.4,29.3],[9.8,25.4],[7.3,23],[6.5,18.3],[6.5,14.2],[7.4,18.6],[8.8,21.8],[9.9,21.3],[15.7,17.2],[14.5,14.6],[15.8,13.5],[14,12.2],[21.3,18.1],[20.5,17.7],[19,19.3],[26.3,30.5],[26.8,28.8],[24.8,25.3],[22.9,28.2],[19.9,24.9],[21.9,24.0],[12,23.8],[8.6,21],[11.4,20.6],[30,38],[36,48],[40,52],[42,55],[48,60],[60,72],[64,80],[32,41],[35,44],[45,62],[46,58],[38,50],[28,35],[33,36],
];

const cyanLimit: number[][] = [
  [6.0,10],[6.12,10.2],[6.24,10.4],[6.36,10.6],[6.48,10.8],[6.6,11],[6.72,11.2],[6.84,11.4],[6.96,11.6],[7.08,11.8],[7.2,12],[7.32,12.2],[7.44,12.4],[7.56,12.6],[7.68,12.8],[7.8,13],[7.92,13.2],[8.04,13.4],[8.16,13.6],[8.28,13.8],[8.4,14],[8.52,14.2],[8.64,14.4],[8.76,14.6],[8.88,14.8],[9.0,15],
  [9.18,15.3],[9.36,15.6],[9.54,15.9],[9.72,16.2],[9.9,16.5],[10.08,16.8],[10.26,17.1],[10.44,17.4],[10.62,17.7],[10.8,18],[10.98,18.3],[11.16,18.6],[11.34,18.9],[11.52,19.2],[11.7,19.5],[11.88,19.8],[12.06,20.1],[12.24,20.4],[12.42,20.7],[12.6,21],[12.78,21.3],[12.96,21.6],[13.14,21.9],[13.32,22.2],[13.5,22.5],[13.68,22.8],[13.86,23.1],[14.04,23.4],[14.22,23.7],[14.4,24],[14.58,24.3],[14.76,24.6],[14.94,24.9],
  [15.3,25.5],[15.6,26],[15.9,26.5],[16.2,27],[16.5,27.5],[16.8,28],[17.1,28.5],[17.4,29],[18.0,30],[18.3,30.5],[18.6,31],[18.9,31.5],[19.2,32],[19.8,33],[20.1,33.5],[20.4,34],[20.7,34.5],[21.3,35.5],[21.6,36],[22.2,37],[22.5,37.5],[23.1,38.5],[23.4,39],[24.0,40],[24.6,41],
  [25.38,42.3],[26.34,43.9],[27.3,45.5],[28.26,47.1],[29.7,49.5],[31.14,51.9],[32.58,54.3],[34.5,57.5],[36.42,60.7],[38.82,64.7],[41.7,69.5],[44.58,74.3],[48.18,80.3],[52.08,86.8],[56.76,94.6],[61.44,102.4],[66.9,111.5],[72.36,120.6],[79.38,132.3],
];

const FONT = "'Liberation Sans', Arial, Helvetica, sans-serif";
const AXIS = "#231f20";
const ORANGE = "#f47b3c";

export default function App() {
  const x = d3.scaleLog().domain([1, 500]).range([119, 1310]);
  const y = d3.scaleLog().domain([10, 500]).range([961, 22]);
  const RX = 3.6;
  const RY = 3.2;

  const dots = (data: number[][], color: string, key: string, opacity = 1, s = 1) =>
    data.map(([a, v], i) => (
      <ellipse
        key={key + i}
        cx={x(a)}
        cy={y(v)}
        rx={RX * s}
        ry={RY * s}
        fill={color}
        fillOpacity={opacity}
      />
    ));

  const x0 = x(1), x1 = x(500), y0 = y(10), y1 = y(500);

  return (
    <svg
      width={1351}
      height={1078}
      style={{ position: "absolute", left: 0, top: 0, background: "#fff" }}
      fontFamily={FONT}
    >
      <rect x={0} y={0} width={1351} height={1078} fill="#fff" />

      {/* data */}
      <g>{dots(magentaFix, "#ec008c", "m", 0.72)}</g>
      <g>{dots(redFix, "#ed1c24", "r")}</g>
      <g>{dots(navyVol, "#2e3192", "n")}</g>
      <g>{dots(magentaLimit, "#e8168a", "ml", 1, 0.95)}</g>
      <g>{dots(cyanFix, "#27b5ea", "c")}</g>
      <g>{dots(cyanLimit, "#27b5ea", "cl")}</g>

      {/* axes */}
      <g stroke={AXIS} strokeWidth={1.6} fill="none">
        <line x1={x0} y1={y0} x2={x1} y2={y0} />
        <line x1={x0} y1={y0} x2={x0} y2={y1} />
        {xMinorTicks.map((t) => (
          <line key={"xm" + t} x1={x(t)} x2={x(t)} y1={y0} y2={y0 - 5} />
        ))}
        {xMajorTicks.map((t) => (
          <line key={"xM" + t} x1={x(t)} x2={x(t)} y1={y0} y2={y0 - 11} />
        ))}
        {yMinorTicks.map((t) => (
          <line key={"ym" + t} x1={x0} x2={x0 + 6} y1={y(t)} y2={y(t)} />
        ))}
        {yMajorTicks.map((t) => (
          <line key={"yM" + t} x1={x0} x2={x0 + 12} y1={y(t)} y2={y(t)} />
        ))}
      </g>

      {/* tick labels */}
      <g fontSize={25} fill={AXIS}>
        {xTickLabels.map((t) => (
          <text key={"xl" + t} x={x(t)} y={998} textAnchor="middle">
            {t}
          </text>
        ))}
        {yTickLabels.map((t) => (
          <text key={"yl" + t} x={113} y={y(t) + 9} textAnchor="end">
            {t}
          </text>
        ))}
      </g>
      <g fontSize={26} fill={ORANGE}>
        {xCutoffLabels.map((t) => (
          <text key={"xc" + t} x={x(t)} y={998} textAnchor="middle" fontSize={25}>
            {t}
          </text>
        ))}
        <text x={263} y={1039}>cut-off for</text>
        <text x={263} y={1070}>200 Hz</text>
        <text x={403} y={1039}>cut-off for</text>
        <text x={403} y={1070}>100 Hz</text>
      </g>

      {/* axis titles */}
      <text x={549} y={1062} fontSize={37} fill={AXIS}>
        Maximal amplitude (minarc)
      </text>
      <text
        transform={`translate(40,457) rotate(-90)`}
        textAnchor="middle"
        fontSize={36}
        fill={AXIS}
      >
        Peak Velocity (deg/s)
      </text>

      {/* legend */}
      <g fontSize={37}>
        {legendLabels.map((l, i) => (
          <text key={l} x={217} y={54 + i * 48.7} fill={legendColors[i]}>
            {l}
          </text>
        ))}
      </g>
    </svg>
  );
}
